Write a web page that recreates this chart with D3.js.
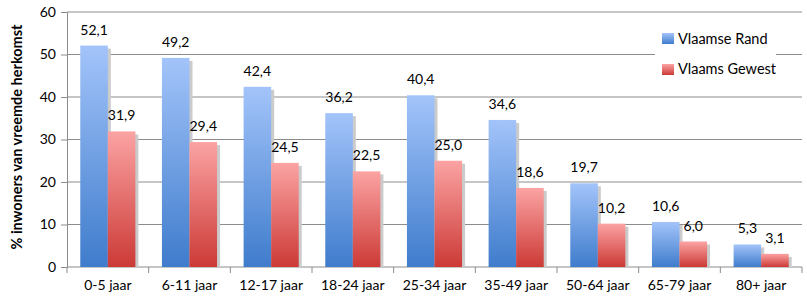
<!DOCTYPE html>
<html>
<head>
<meta charset="utf-8">
<script src="https://cdn.jsdelivr.net/npm/d3@7"></script>
<style>
  body { margin: 0; background: #fff; }
  text { font-family: Lato, "Open Sans", sans-serif; fill: #000; }
</style>
</head>
<body>
<script>
// data
var categories = ["0-5 jaar", "6-11 jaar", "12-17 jaar", "18-24 jaar", "25-34 jaar", "35-49 jaar", "50-64 jaar", "65-79 jaar", "80+ jaar"];
var series = ["Vlaamse Rand", "Vlaams Gewest"];
var rand = [52.1, 49.2, 42.4, 36.2, 40.4, 34.6, 19.7, 10.6, 5.3];
var gewest = [31.9, 29.4, 24.5, 22.5, 25.0, 18.6, 10.2, 6.0, 3.1];
var yTicks = [0, 10, 20, 30, 40, 50, 60];

const margin = {top: 12, bottom: 31, right: 5, left: 67},
    width = 807 - margin.left - margin.right,
    height = 298 - margin.top - margin.bottom;

var svg = d3.select("body")
    .append("svg")
    .attr("width", 807)
    .attr("height", 298);

var defs = svg.append("defs");
var grads = [["gBlue", "#a3c4fa", "#3f7ccc"], ["gRed", "#fba3a3", "#cc3a36"]];
grads.forEach(function(g) {
    var lg = defs.append("linearGradient").attr("id", g[0])
        .attr("x1", 0).attr("y1", 0).attr("x2", 0).attr("y2", 1);
    lg.append("stop").attr("offset", "0%").attr("stop-color", g[1]);
    lg.append("stop").attr("offset", "100%").attr("stop-color", g[2]);
});

var g = svg.append("g")
    .attr("transform", "translate(" + margin.left + "," + margin.top + ")");

var x = d3.scaleBand()
    .domain(categories)
    .range([0, width])
    .paddingInner(0.325)
    .paddingOuter(0.1625);

var xs = d3.scaleBand()
    .domain(series)
    .range([0, x.bandwidth()]);

var y = d3.scaleLinear()
    .domain([0, 60])
    .range([height, 0]);

// gridlines
g.selectAll(".grid")
    .data(yTicks.slice(1))
    .enter().append("line")
    .attr("x1", 0).attr("x2", width)
    .attr("y1", d => y(d)).attr("y2", d => y(d))
    .attr("stroke", "#8c8c8c").attr("stroke-width", 1);

// y axis
var yAxis = g.append("g")
    .call(d3.axisLeft(y).tickValues(yTicks).tickSize(6).tickPadding(5));
yAxis.select(".domain").attr("stroke", "#8c8c8c");
yAxis.selectAll(".tick line").attr("stroke", "#8c8c8c");
yAxis.selectAll("text").style("font-size", "14px");

// x axis with ticks between categories
g.append("line")
    .attr("x1", 0).attr("x2", width)
    .attr("y1", height).attr("y2", height)
    .attr("stroke", "#8c8c8c");
var step = x.step();
g.selectAll(".xtick")
    .data(d3.range(categories.length + 1))
    .enter().append("line")
    .attr("x1", i => x(categories[0]) - x.paddingOuter() * step + i * step)
    .attr("x2", i => x(categories[0]) - x.paddingOuter() * step + i * step)
    .attr("y1", height).attr("y2", height + 6)
    .attr("stroke", "#8c8c8c");
g.selectAll(".xlab")
    .data(categories)
    .enter().append("text")
    .attr("x", d => x(d) + x.bandwidth() / 2)
    .attr("y", height + 23)
    .attr("text-anchor", "middle")
    .style("font-size", "14px")
    .text(d => d);

// bars
var allSeries = [rand, gewest];
allSeries.forEach(function(vals, si) {
    var grp = g.append("g");
    var bx = d => x(categories[d]) + xs(series[si]);
    var bw = xs.bandwidth();
    // shadow
    grp.selectAll(".shadow")
        .data(d3.range(vals.length))
        .enter().append("rect")
        .attr("x", i => bx(i) + 3)
        .attr("y", i => y(vals[i]) + 3)
        .attr("width", bw)
        .attr("height", i => height - y(vals[i]) - 3)
        .attr("fill", "#cbcbcb");
    grp.selectAll(".bar")
        .data(d3.range(vals.length))
        .enter().append("rect")
        .attr("x", i => bx(i))
        .attr("y", i => y(vals[i]))
        .attr("width", bw)
        .attr("height", i => height - y(vals[i]))
        .attr("fill", si == 0 ? "url(#gBlue)" : "url(#gRed)");
    grp.selectAll(".lab")
        .data(d3.range(vals.length))
        .enter().append("text")
        .attr("x", i => bx(i) + bw / 2)
        .attr("y", i => y(vals[i]) - 11)
        .attr("text-anchor", "middle")
        .style("font-size", "14px")
        .text(i => d3.format(".1f")(vals[i]).replace(".", ","));
});

// legend
var legend = svg.append("g");
legend.append("rect")
    .attr("x", 655).attr("y", 24)
    .attr("width", 121).attr("height", 62)
    .attr("fill", "#fff");
var colors = ["url(#gBlue)", "url(#gRed)"];
series.forEach(function(s, i) {
    legend.append("rect")
        .attr("x", 662).attr("y", 33 + i * 31)
        .attr("width", 12).attr("height", 11)
        .attr("fill", colors[i]);
    legend.append("text")
        .attr("x", 678).attr("y", 44 + i * 30)
        .style("font-size", "14.5px")
        .text(s);
});

// y axis title
svg.append("text")
    .attr("transform", "translate(22,137) rotate(-90)")
    .attr("text-anchor", "middle")
    .style("font-size", "14.5px")
    .style("font-weight", "bold")
    .text("% inwoners van vreemde herkomst");
</script>
</body>
</html>
